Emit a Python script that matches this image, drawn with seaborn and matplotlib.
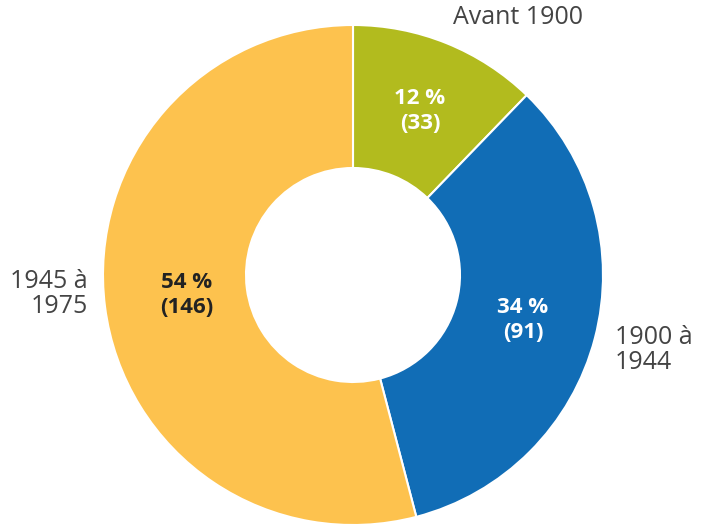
import matplotlib
matplotlib.use("Agg")
import matplotlib.pyplot as plt
import seaborn as sns

# data
CATEGORIES = ["Avant 1900", "1900 à\n1944", "1945 à\n1975"]
COUNTS = [33, 91, 146]
PERCENTS = [12, 34, 54]
COLORS = ["#B2BB1E", "#116DB6", "#FDC24E"]
LABEL_COLORS = ["white", "white", "#222222"]

sns.set_theme(style="white")
plt.rcParams["font.family"] = ["Open Sans", "DejaVu Sans"]

W, H = 701, 525
CX, CY, R = 353, 275, 250


def to_data(px, py):
    return (px - CX) / R, (CY - py) / R


fig = plt.figure(figsize=(W / 100, H / 100), dpi=100)
ax = fig.add_axes([(CX - R) / W, (H - CY - R) / H, 2 * R / W, 2 * R / H])
ax.pie(
    COUNTS,
    colors=COLORS,
    startangle=90,
    counterclock=False,
    radius=1,
    wedgeprops=dict(width=1 - 107 / R, edgecolor="white", linewidth=1.5),
)
ax.set_xlim(-1, 1)
ax.set_ylim(-1, 1)
ax.set_aspect("equal")
ax.axis("off")

# value labels inside wedges
inner_pos = [(420, 111), (523, 320), (187, 295)]
for (px, py), pct, n, col in zip(inner_pos, PERCENTS, COUNTS, LABEL_COLORS):
    x, y = to_data(px, py)
    ax.text(x, y, f"{pct} %\n({n})", ha="center", va="center", color=col,
            fontsize=16, fontweight="bold", linespacing=1.22, clip_on=False)

# category labels outside
outer = [((518, 18), "center"), ((615, 350), "left"), ((88, 294), "right")]
for ((px, py), ha), label in zip(outer, CATEGORIES):
    x, y = to_data(px, py)
    ax.text(x, y, label, ha=ha, va="center", color="#444444", fontsize=18,
            fontweight="normal", linespacing=0.98, multialignment=ha, clip_on=False)

fig.savefig("out.png", dpi=100)
